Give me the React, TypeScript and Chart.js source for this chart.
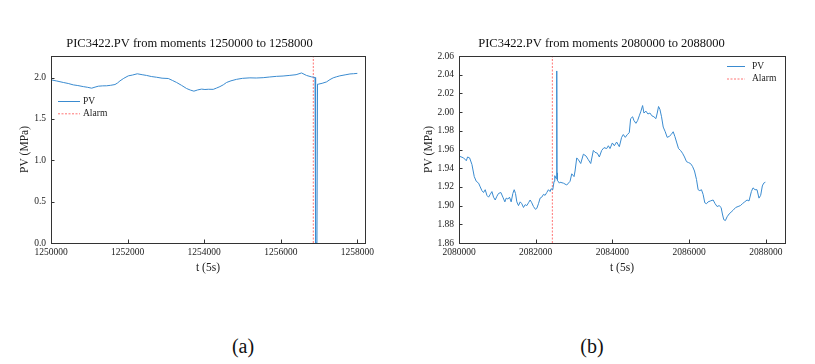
import React, { useEffect, useRef } from "react";
import { Chart, registerables } from "chart.js";

Chart.register(...registerables);

// ---------- Data: chart (a) ----------
const tA = [
  1250000, 1250150, 1250322, 1250450, 1250583, 1250700, 1250844, 1250950, 1251062, 1251150,
  1251236, 1251350, 1251453, 1251560, 1251671, 1251740, 1251801, 1251900, 1252019, 1252130,
  1252253, 1252380, 1252497, 1252620, 1252758, 1252900, 1253063, 1253170, 1253280, 1253410,
  1253541, 1253640, 1253732, 1253830, 1253933, 1254020, 1254107, 1254237, 1254320, 1254411,
  1254500, 1254585, 1254700, 1254846, 1255000, 1255194, 1255360, 1255542, 1255700, 1255890,
  1256060, 1256238, 1256400, 1256543, 1256673, 1256800, 1256895, 1256910, 1256945, 1256960,
  1256977, 1257080, 1257195, 1257285, 1257369, 1257450, 1257543, 1257680, 1257807, 1257900,
  1258000,
];
const pvA = [
  1.972, 1.958, 1.940, 1.928, 1.911, 1.903, 1.890, 1.882, 1.871, 1.884,
  1.895, 1.899, 1.900, 1.906, 1.915, 1.935, 1.959, 1.990, 2.020, 2.030,
  2.045, 2.034, 2.025, 2.012, 2.003, 1.992, 1.988, 1.965, 1.940, 1.905,
  1.867, 1.848, 1.835, 1.850, 1.860, 1.855, 1.858, 1.857, 1.872, 1.890,
  1.912, 1.940, 1.960, 1.978, 1.990, 1.996, 1.994, 1.998, 2.006, 2.014,
  2.018, 2.026, 2.034, 2.055, 2.025, 2.008, 2.000, 0.0, 0.0, 1.920,
  1.919, 1.930, 1.947, 1.975, 1.996, 2.008, 2.020, 2.032, 2.043, 2.046,
  2.050,
];
const alarmA = 1256850;
const xTicksA = [1250000, 1252000, 1254000, 1256000, 1258000];
const yTicksA = [0.0, 0.5, 1.0, 1.5, 2.0];

// ---------- Data: chart (b) ----------
const tB = [
  2080000, 2080120, 2080190, 2080224, 2080277, 2080337, 2080398, 2080450, 2080511, 2080554,
  2080597, 2080640, 2080684, 2080727, 2080771, 2080814, 2080858, 2080901, 2080944, 2080988,
  2081031, 2081092, 2081144, 2081196, 2081230, 2081274, 2081317, 2081360, 2081404, 2081439,
  2081473, 2081508, 2081551, 2081595, 2081638, 2081681, 2081725, 2081768, 2081812, 2081855,
  2081898, 2081942, 2081994, 2082028, 2082072, 2082115, 2082158, 2082202, 2082245, 2082289,
  2082332, 2082375, 2082401, 2082445, 2082479, 2082497, 2082531, 2082549, 2082556, 2082566,
  2082618, 2082636, 2082723, 2082809, 2082896, 2082940, 2083000, 2083026, 2083070, 2083113,
  2083174, 2083243, 2083313, 2083373, 2083434, 2083503, 2083547, 2083607, 2083659, 2083720,
  2083781, 2083850, 2083894, 2083937, 2083998, 2084050, 2084110, 2084180, 2084240, 2084284,
  2084336, 2084388, 2084440, 2084475, 2084527, 2084561, 2084613, 2084657, 2084700, 2084744,
  2084787, 2084822, 2084874, 2084926, 2084978, 2085030, 2085082, 2085134, 2085169, 2085203,
  2085238, 2085281, 2085325, 2085377, 2085429, 2085481, 2085533, 2085585, 2085628, 2085672,
  2085724, 2085776, 2085828, 2085880, 2085932, 2085984, 2086036, 2086088, 2086140, 2086192,
  2086235, 2086279, 2086322, 2086365, 2086409, 2086452, 2086495, 2086556, 2086626, 2086678,
  2086730, 2086782, 2086834, 2086868, 2086903, 2086946, 2086990, 2087042, 2087094, 2087146,
  2087215, 2087276, 2087337, 2087389, 2087450, 2087510, 2087562, 2087623, 2087666, 2087718,
  2087770, 2087822, 2087866, 2087909, 2087944, 2087988,
];
const pvB = [
  1.953, 1.951, 1.948, 1.952, 1.951, 1.944, 1.931, 1.926, 1.924, 1.920,
  1.916, 1.914, 1.917, 1.911, 1.909, 1.912, 1.915, 1.909, 1.906, 1.910,
  1.913, 1.914, 1.909, 1.904, 1.908, 1.907, 1.909, 1.904, 1.913, 1.917,
  1.913, 1.904, 1.900, 1.904, 1.902, 1.898, 1.901, 1.900, 1.903, 1.906,
  1.903, 1.899, 1.896, 1.897, 1.902, 1.908, 1.909, 1.912, 1.911, 1.914,
  1.917, 1.915, 1.918, 1.917, 1.926, 1.932, 1.929, 2.044, 1.935, 1.927,
  1.924, 1.925, 1.924, 1.922, 1.926, 1.934, 1.931, 1.937, 1.951, 1.949,
  1.945, 1.955, 1.953, 1.949, 1.945, 1.959, 1.957, 1.956, 1.952, 1.959,
  1.962, 1.961, 1.964, 1.961, 1.967, 1.964, 1.968, 1.963, 1.973, 1.976,
  1.973, 1.976, 1.978, 1.993, 1.995, 1.991, 1.988, 1.991, 1.996, 2.001,
  2.007, 1.999, 2.001, 1.998, 1.999, 1.996, 1.995, 1.993, 1.999, 2.006,
  2.003, 1.995, 1.984, 1.979, 1.973, 1.974, 1.976, 1.979, 1.974, 1.968,
  1.961, 1.959, 1.956, 1.952, 1.947, 1.946, 1.945, 1.942, 1.937, 1.928,
  1.917, 1.916, 1.917, 1.912, 1.903, 1.902, 1.904, 1.905, 1.906, 1.902,
  1.899, 1.900, 1.898, 1.891, 1.885, 1.884, 1.888, 1.891, 1.893, 1.895,
  1.898, 1.899, 1.900, 1.902, 1.904, 1.906, 1.905, 1.915, 1.919, 1.917,
  1.917, 1.908, 1.911, 1.921, 1.924, 1.925,
];
const alarmB = 2082434;
const xTicksB = [2080000, 2082000, 2084000, 2086000, 2088000];
const yTicksB = [1.86, 1.88, 1.9, 1.92, 1.94, 1.96, 1.98, 2.0, 2.02, 2.04, 2.06];

const SERIF = "'Liberation Serif', 'Times New Roman', serif";
const PV_COLOR = "#3a8bd0";
const ALARM_COLOR = "rgba(255,70,70,0.75)";
const FRAME = "#333333";

const framePlugin = {
  id: "frameTicks",
  afterDatasetsDraw(chart: any) {
    const { ctx, chartArea } = chart;
    const { left, right, top, bottom } = chartArea;
    ctx.save();
    ctx.strokeStyle = FRAME;
    ctx.lineWidth = 1;
    ctx.setLineDash([]);
    ctx.strokeRect(Math.round(left) + 0.5, Math.round(top) + 0.5, Math.round(right - left), Math.round(bottom - top));
    const tl = 3.5;
    ctx.beginPath();
    for (const t of chart.scales.x.ticks) {
      const px = Math.round(chart.scales.x.getPixelForValue(t.value)) + 0.5;
      ctx.moveTo(px, bottom);
      ctx.lineTo(px, bottom - tl);
    }
    for (const t of chart.scales.y.ticks) {
      const py = Math.round(chart.scales.y.getPixelForValue(t.value)) + 0.5;
      ctx.moveTo(left, py);
      ctx.lineTo(left + tl, py);
    }
    ctx.stroke();
    ctx.restore();
  },
};

const legendPlugin = {
  id: "customLegend",
  afterDraw(chart: any, _args: any, opts: any) {
    const { ctx } = chart;
    chart.data.datasets.forEach((ds: any, i: number) => {
      const yy = opts.y + i * opts.rowH;
      ctx.save();
      ctx.strokeStyle = ds.borderColor;
      ctx.lineWidth = 1;
      ctx.setLineDash(ds.borderDash || []);
      ctx.beginPath();
      ctx.moveTo(opts.x, yy + 0.5);
      ctx.lineTo(opts.x + opts.lineLen, yy + 0.5);
      ctx.stroke();
      ctx.setLineDash([]);
      ctx.fillStyle = "#222";
      ctx.font = `9.5px ${SERIF}`;
      ctx.textBaseline = "middle";
      ctx.fillText(ds.label, opts.x + opts.lineLen + opts.gap, yy);
      ctx.restore();
    });
  },
};

function makeConfig(p: any) {
  return {
    type: "line",
    data: {
      datasets: [
        {
          label: "PV",
          data: p.t.map((x: number, i: number) => ({ x, y: p.pv[i] })),
          borderColor: PV_COLOR,
          borderWidth: 1,
          pointRadius: 0,
          tension: 0,
        },
        {
          label: "Alarm",
          data: [
            { x: p.alarm, y: p.yMin },
            { x: p.alarm, y: p.yMax },
          ],
          borderColor: ALARM_COLOR,
          borderWidth: 1,
          borderDash: [2, 1.5],
          pointRadius: 0,
        },
      ],
    },
    options: {
      animation: false,
      responsive: false,
      maintainAspectRatio: false,
      layout: { padding: { left: p.padLeft, right: p.padRight, top: 30, bottom: 25 } },
      plugins: {
        legend: { display: false },
        tooltip: { enabled: false },
        title: {
          display: true,
          text: p.title,
          color: "#111",
          font: { family: SERIF, size: 12.5, weight: "normal" },
          padding: { top: 6, bottom: 5 },
        },
        customLegend: p.legend,
      },
      scales: {
        x: {
          type: "linear",
          min: p.xMin,
          max: p.xMax,
          grid: { display: false, drawTicks: false },
          border: { display: false },
          afterBuildTicks: (s: any) => {
            s.ticks = p.xTicks.map((v: number) => ({ value: v }));
          },
          afterFit: (s: any) => {
            s.height = 32;
          },
          ticks: {
            padding: 4,
            maxRotation: 0,
            autoSkip: false,
            color: "#222",
            font: { family: SERIF, size: 9.5 },
            callback: (v: any) => String(v),
          },
          title: {
            display: true,
            text: "t (5s)",
            color: "#222",
            font: { family: SERIF, size: 11.5 },
            padding: { top: 0, bottom: 0 },
          },
        },
        y: {
          type: "linear",
          min: p.yMin,
          max: p.yMax,
          grid: { display: false, drawTicks: false },
          border: { display: false },
          afterBuildTicks: (s: any) => {
            s.ticks = p.yTicks.map((v: number) => ({ value: v }));
          },
          afterFit: (s: any) => {
            s.width = p.yWidth;
          },
          ticks: {
            padding: 5,
            autoSkip: false,
            color: "#222",
            font: { family: SERIF, size: 9.5 },
            callback: (v: any) => Number(v).toFixed(p.yDec),
          },
          title: {
            display: true,
            text: "PV (MPa)",
            color: "#222",
            font: { family: SERIF, size: 11.5 },
            padding: { top: 4, bottom: 0 },
          },
        },
      },
    },
    plugins: [framePlugin, legendPlugin],
  };
}

function ChartBox(props: { cfg: any; left: number; width: number }) {
  const ref = useRef<HTMLCanvasElement | null>(null);
  useEffect(() => {
    if (!ref.current) return;
    const c = new Chart(ref.current, props.cfg);
    return () => c.destroy();
  }, []);
  return (
    <canvas
      ref={ref}
      width={props.width}
      height={300}
      style={{ position: "absolute", left: props.left, top: 0, width: props.width, height: 300 }}
    />
  );
}

export default function App() {
  const cfgA = makeConfig({
    t: tA,
    pv: pvA,
    alarm: alarmA,
    xMin: 1250000,
    xMax: 1258200,
    yMin: 0,
    yMax: 2.26,
    xTicks: xTicksA,
    yTicks: yTicksA,
    yDec: 1,
    padLeft: 14,
    padRight: 35,
    yWidth: 37,
    title: "PIC3422.PV from moments 1250000 to 1258000",
    legend: { x: 58, y: 101, rowH: 12.3, lineLen: 22, gap: 3 },
  });
  const cfgB = makeConfig({
    t: tB,
    pv: pvB,
    alarm: alarmB,
    xMin: 2080000,
    xMax: 2088500,
    yMin: 1.86,
    yMax: 2.06,
    xTicks: xTicksB,
    yTicks: yTicksB,
    yDec: 2,
    padLeft: 18,
    padRight: 30,
    yWidth: 41,
    title: "PIC3422.PV from moments 2080000 to 2088000",
    legend: { x: 327, y: 66, rowH: 12.5, lineLen: 18, gap: 7 },
  });
  const cap: React.CSSProperties = {
    position: "absolute",
    top: 334,
    width: 60,
    textAlign: "center",
    fontFamily: SERIF,
    fontSize: 20,
    lineHeight: "24px",
    color: "#111",
  };
  return (
    <div style={{ position: "absolute", left: 0, top: 0, width: 815, height: 364, background: "#fff", overflow: "hidden" }}>
      <ChartBox cfg={cfgA} left={0} width={400} />
      <ChartBox cfg={cfgB} left={400} width={415} />
      <div style={{ ...cap, left: 213 }}>(a)</div>
      <div style={{ ...cap, left: 562 }}>(b)</div>
    </div>
  );
}
